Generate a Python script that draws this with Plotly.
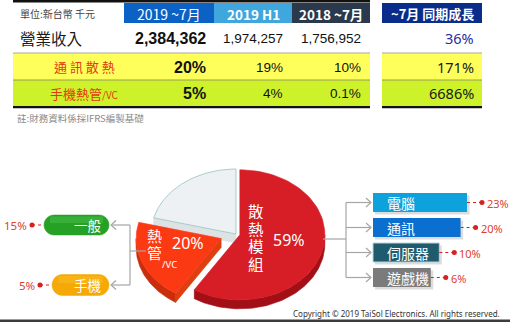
import math
import plotly.graph_objects as go

W, H = 510, 322

# ---- table contents ----
unit_label = "單位:新台幣 千元"
period_headers = ["2019 ~7月", "2019 H1", "2018 ~7月"]
growth_header = "~7月 同期成長"
row_names = ["營業收入", "通 訊 散 熱", "手機熱管"]
revenue = [2384362, 1974257, 1756952]
comm_ratio = [20, 19, 10]
mobile_ratio = [5, 4, 0.1]
growth_pct = [36, 171, 6686]
footnote = "註:財務資料係採IFRS編製基礎"

# ---- product mix ----
mix_names = ["散熱模組", "熱管"]
mix_pct = [59, 20]
module_apps = ["電腦", "通訊", "伺服器", "遊戲機"]
module_pct = [23, 20, 10, 6]
pipe_apps = ["一般", "手機"]
pipe_pct = [15, 5]
copyright_text = "Copyright © 2019 TaiSol Electronics. All rights reserved."

CJK = "Noto Sans CJK TC"
NUM = "Liberation Sans, Arial"
LIGHT = "Noto Sans, Open Sans, sans-serif"

fig = go.Figure()
shapes = []
notes = []


def rect(x0, y0, x1, y1, fill, line=None, lw=0, opacity=1.0):
    shapes.append(dict(type="rect", xref="x", yref="y", x0=x0, y0=y0, x1=x1, y1=y1,
                       fillcolor=fill, opacity=opacity,
                       line=dict(color=line or fill, width=lw)))


def seg(x0, y0, x1, y1, color, width=1.0, dash="solid"):
    shapes.append(dict(type="line", xref="x", yref="y", x0=x0, y0=y0, x1=x1, y1=y1,
                       line=dict(color=color, width=width, dash=dash)))


def path(d, fill=None, line="rgba(0,0,0,0)", lw=1.0):
    shapes.append(dict(type="path", xref="x", yref="y", path=d,
                       fillcolor=fill if fill else "rgba(0,0,0,0)",
                       line=dict(color=line, width=lw)))


def text(x, y, s, size, color, family=CJK, xanchor="center", bold=False, height=None):
    ann = dict(x=x, y=y, xref="x", yref="y", text=(f"<b>{s}</b>" if bold else s),
               showarrow=False, xanchor=xanchor, yanchor="middle",
               font=dict(size=size, color=color, family=family))
    if height:
        ann.update(height=height, borderpad=0)
    notes.append(ann)


def fmt_pct(v):
    return f"{v:g}%"


# ---------------- table ----------------
col_x = [13, 124, 214, 292, 370]
grow_x = [382, 482]
row_y = [3, 23, 53, 80, 106]
header_fill = ["#0b62c4", "#3fa7dd", "#2a3a4c"]
grow_fill = "#0a2d8b"
row_fill = ["#ffffff", "#ffff5c", "#cdf22a"]

rect(col_x[0], 0, col_x[-1], 2.6, "#111111")
for i, h in enumerate(period_headers):
    rect(col_x[i + 1], row_y[0], col_x[i + 2], row_y[1], header_fill[i])
    text((col_x[i + 1] + col_x[i + 2]) / 2, 13.5, h, 14 if i == 0 else 13.5, "white",
         bold=(i > 0))
rect(grow_x[0], row_y[0], grow_x[1], row_y[1], grow_fill)
text((grow_x[0] + grow_x[1]) / 2, 13.5, growth_header, 13, "white", bold=True)
text(18, 13.5, unit_label, 10, "#444444", xanchor="left")

for r in range(3):
    rect(col_x[0], row_y[r + 1], col_x[-1], row_y[r + 2], row_fill[r])
    rect(grow_x[0], row_y[r + 1], grow_x[1], row_y[r + 2], row_fill[r])
for yb, c in ((row_y[2], "#a9a9a0"), (row_y[3], "#9a9a55")):
    seg(col_x[0], yb, col_x[-1], yb, c, 1)
    seg(grow_x[0], yb, grow_x[1], yb, c, 1)
rect(col_x[0], row_y[4], col_x[-1], row_y[4] + 2.2, "#111111")
rect(grow_x[0], row_y[4], grow_x[1], row_y[4] + 2.2, "#111111")

row_mid = [(row_y[i + 1] + row_y[i + 2]) / 2 for i in range(3)]
val_right = [208, 285, 363]
text(18, row_mid[0], row_names[0], 15.5, "#1a1a1a", xanchor="left")
text(84, row_mid[1], row_names[1], 13, "#e23a10")
text(84, row_mid[2], row_names[2] + "<span style='font-size:10px'>/VC</span>", 13, "#e23a10")

rows_vals = [[f"{v:,}" for v in revenue],
             [fmt_pct(v) for v in comm_ratio],
             [fmt_pct(v) for v in mobile_ratio]]
for r, vals in enumerate(rows_vals):
    for c, s in enumerate(vals):
        text(val_right[c], row_mid[r] + 0.5, s, 16 if c == 0 else 13.5, "#111111", NUM,
             xanchor="right", bold=(c == 0))
grow_colors = ["#2b2ba8", "#1a1a1a", "#1a1a1a"]
for r, v in enumerate(growth_pct):
    text(476, row_mid[r], fmt_pct(v), 14.5, grow_colors[r], LIGHT, xanchor="right")

text(15, 118, footnote, 9.5, "#8a8a8a", xanchor="left")

# ---------------- 3D pie ----------------
cx, cy = 236.0, 234.0
rx, ry = 85.0, 65.0
depth = 9.0


def pt(t, ox, oy, dz=0.0):
    a = math.radians(t)
    return ox + rx * math.cos(a), oy - ry * math.sin(a) + dz


def arc(t0, t1, ox, oy, dz=0.0, n=80):
    return [pt(t0 + (t1 - t0) * i / n, ox, oy, dz) for i in range(n + 1)]


def poly(points, color, edge=None, ew=0.6):
    xs = [p[0] for p in points] + [points[0][0]]
    ys = [p[1] for p in points] + [points[0][1]]
    fig.add_trace(go.Scatter(x=xs, y=ys, mode="lines", fill="toself", fillcolor=color,
                             line=dict(color=edge or color, width=ew),
                             hoverinfo="skip", showlegend=False))


values = mix_pct + [100 - sum(mix_pct)]
explode = [4, 16, 0]
tops = ["#d71d25", "#fb3a14", "#eef1f3"]
sides = ["#a30f16", "#c92d0c", "#d9dee1"]
faces = ["#b8121a", "#de3e10", "#dde2e5"]
edges = [None, None, "#98c2c2"]

slices = []
start = 90.0
for i, v in enumerate(values):
    end = start - v / 100 * 360
    mid = math.radians((start + end) / 2)
    ox = cx + explode[i] * math.cos(mid)
    oy = cy - explode[i] * math.sin(mid) * ry / rx
    slices.append((start, end, ox, oy))
    start = end

for i in (2, 0, 1):
    a, b, ox, oy = slices[i]
    # front rim
    for k in range(-2, 3):
        lo, hi = -180 + 360 * k, 360 * k
        s, e = max(b, lo), min(a, hi)
        if e > s:
            top = arc(e, s, ox, oy)
            bot = arc(s, e, ox, oy, depth)
            poly(top + bot, sides[i])
    # cut faces that turn toward the viewer
    for te, nrm in ((a, a + 90), (b, b - 90)):
        if math.sin(math.radians(nrm)) < -1e-6:
            p = pt(te, ox, oy)
            poly([(ox, oy), p, (p[0], p[1] + depth), (ox, oy + depth)], faces[i])
    poly([(ox, oy)] + arc(a, b, ox, oy), tops[i], edges[i], 0.8 if edges[i] else 0.6)

# slice labels (vertical text, one glyph per line)
for j, ch in enumerate(mix_names[0]):
    text(256, 210.5 + j * 17.5, ch, 15.5, "white", height=17)
text(289, 240, f"{mix_pct[0]}%", 16, "white", LIGHT)
for j, ch in enumerate(mix_names[1]):
    text(154, 235 + j * 17, ch, 15, "white", height=16.5)
text(169, 264, "/VC", 9.5, "white", LIGHT)
text(188, 243, f"{mix_pct[1]}%", 16, "white", LIGHT)

# ---------------- connectors ----------------
GREY = "#a6a6a6"
RED = "#d92020"

# left branch (heat pipe)
pill_mid = [225, 285]
seg(146, 251, 130, 251, GREY, 1.2)
seg(130, pill_mid[0], 130, pill_mid[1], GREY, 1.2)
for y in pill_mid:
    seg(130, y, 111, y, GREY, 1.2)
    path(f"M 116 {y - 4.5} L 111 {y} L 116 {y + 4.5}", line=GREY, lw=1.2)

pill_cols = ["#26a126", "#f5a806"]
pill_hi = ["#5ccc5c", "#ffcc33"]
k = 0.5523
for i, (name, v) in enumerate(zip(pipe_apps, pipe_pct)):
    yc = pill_mid[i]
    x1 = 109
    x0 = x1 - (53 + 0.8 * v)
    r = 10 if i == 0 else 10.5
    d = (f"M {x0 + r} {yc - r} L {x1 - r} {yc - r} "
         f"C {x1 - r + k * r} {yc - r} {x1} {yc - k * r} {x1} {yc} "
         f"C {x1} {yc + k * r} {x1 - r + k * r} {yc + r} {x1 - r} {yc + r} "
         f"L {x0 + r} {yc + r} "
         f"C {x0 + r - k * r} {yc + r} {x0} {yc + k * r} {x0} {yc} "
         f"C {x0} {yc - k * r} {x0 + r - k * r} {yc - r} {x0 + r} {yc - r} Z")
    path(d, fill=pill_cols[i], line=pill_cols[i], lw=0.5)
    shapes.append(dict(type="rect", xref="x", yref="y", x0=x0 + r * 0.6, x1=x1 - r * 0.6,
                       y0=yc - r + 1.5, y1=yc - 2, fillcolor=pill_hi[i], opacity=0.35,
                       line=dict(width=0)))
    text(88, yc, name, 13.5, "white")
    dot = x0 - 12
    seg(dot, yc, x0, yc, RED, 1.1, "dot")
    fig.add_trace(go.Scatter(x=[dot], y=[yc], mode="markers",
                             marker=dict(size=5, color=RED), hoverinfo="skip",
                             showlegend=False))
    text(dot - 3, yc + 0.5, fmt_pct(v), 11.5, "#e0402a", LIGHT, xanchor="right")

# right branch (modules)
box_mid = [202.5, 227.5, 252.5, 277.5]
box_cols = ["#0ea2dc", "#0b6fd0", "#1f5b6c", "#7b7b7b"]
seg(323, 239, 346, 239, GREY, 1.2)
seg(346, box_mid[0], 346, box_mid[-1], GREY, 1.2)
bx0 = 373
for i, (name, v) in enumerate(zip(module_apps, module_pct)):
    yc = box_mid[i]
    seg(346, yc, 371, yc, GREY, 1.2)
    path(f"M 366 {yc - 4.5} L 371 {yc} L 366 {yc + 4.5}", line=GREY, lw=1.2)
    bx1 = bx0 + 45 + 2.13 * v
    rect(bx0 + 2, yc - 9.5 + 2.5, bx1 + 2.5, yc + 9.5 + 2.5, "#9a9a9a", opacity=0.35)
    rect(bx0, yc - 9.5, bx1, yc + 9.5, box_cols[i],
         line="#b9d3de" if i == 2 else box_cols[i], lw=1 if i == 2 else 0)
    text(385, yc, name, 14, "white", xanchor="left")
    dot = bx1 + 15
    seg(bx1, yc, dot, yc, RED, 1.1, "dot")
    fig.add_trace(go.Scatter(x=[dot], y=[yc], mode="markers",
                             marker=dict(size=5, color=RED), hoverinfo="skip",
                             showlegend=False))
    text(dot + 3, yc + 0.5, fmt_pct(v), 11, "#e0402a", LIGHT, xanchor="left")

# ---------------- footer ----------------
text(502, 313, copyright_text, 8, "#333333", LIGHT, xanchor="right")
rect(0, 319.5, W, H, "#3c3c3c")

fig.update_layout(
    width=W, height=H, margin=dict(l=0, r=0, t=0, b=0),
    paper_bgcolor="white", plot_bgcolor="white", showlegend=False,
    xaxis=dict(range=[0, W], visible=False, fixedrange=True),
    yaxis=dict(range=[H, 0], visible=False, fixedrange=True),
    shapes=shapes, annotations=notes,
)
fig.write_html("out.html")
